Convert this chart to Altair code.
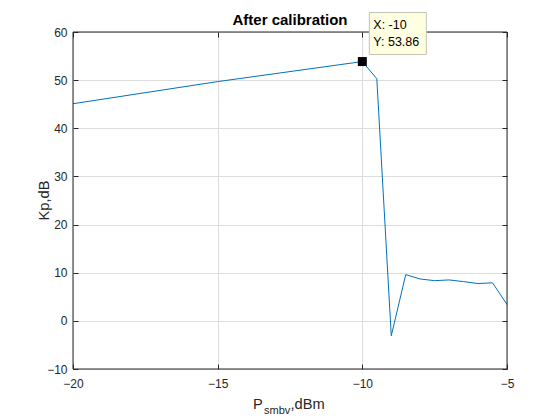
import altair as alt
import pandas as pd

# ---- data ----
x_vals = [-20, -15, -10, -9.5, -9, -8.5, -8, -7.5, -7, -6.5, -6, -5.5, -5]
kp_vals = [45.1, 49.7, 53.86, 50.3, -3.1, 9.6, 8.7, 8.35, 8.5, 8.15, 7.75, 7.9, 3.4]
x_ticks = [-20, -15, -10, -5]
y_ticks = [-10, 0, 10, 20, 30, 40, 50, 60]
tip_x = [-10]
tip_y = [53.86]
title_text = "After calibration"
xlabel_main = "P"
xlabel_sub = "smbv"
xlabel_tail = ",dBm"
ylabel_text = "Kp,dB"

W, H = 434, 337
FONT = "Liberation Sans"
AX = "#262626"
GRID = "#DEDEDE"
LINE = "#0072BD"

df = pd.DataFrame({"x": x_vals, "y": kp_vals})
tip = pd.DataFrame({"x": tip_x, "y": tip_y})
tip["label"] = [f"X: {tip_x[0]:g}\nY: {tip_y[0]:.2f}"]
one = pd.DataFrame({"k": [0]})

xs = alt.Scale(domain=[-20, -5], nice=False, zero=False)
ys = alt.Scale(domain=[-10, 60], nice=False, zero=False)

common_lbl = dict(labelFont=FONT, labelFontSize=12, labelColor=AX,
                  labelOverlap=False, labelBound=False, title=None)

line = alt.Chart(df).mark_line(color=LINE, strokeWidth=1).encode(
    x=alt.X("x:Q", scale=xs, axis=alt.Axis(values=x_ticks, grid=True, gridColor=GRID,
                                           ticks=False, domain=False, labelPadding=9,
                                           labelFlush=False, **common_lbl)),
    y=alt.Y("y:Q", scale=ys, axis=alt.Axis(values=y_ticks, grid=True, gridColor=GRID,
                                           ticks=False, domain=False, labelPadding=6,
                                           labelFlush=False, **common_lbl)),
)

tick_ax = dict(grid=False, domain=False, labels=False, ticks=True, tickSize=5,
               tickColor=AX, tickWidth=1, offset=-5, title=None)

border = alt.Chart(one).mark_rect(fill=None, stroke=AX, strokeWidth=1).encode(
    x=alt.value(0), x2=alt.value(W), y=alt.value(0), y2=alt.value(H)
)

marker = alt.Chart(tip).mark_square(size=81, color="black", opacity=1, filled=True).encode(
    x=alt.X("x:Q", scale=xs, axis=alt.Axis(orient="top", values=x_ticks, **tick_ax)),
    y=alt.Y("y:Q", scale=ys, axis=alt.Axis(orient="right", values=y_ticks, **tick_ax)),
)

box = alt.Chart(tip).mark_rect(fill="#FFFFE1", stroke="#C4C4B4", strokeWidth=1,
                               xOffset=7, x2Offset=64, yOffset=-49, y2Offset=-7).encode(
    x=alt.X("x:Q", scale=xs, axis=alt.Axis(orient="bottom", values=x_ticks, **tick_ax)),
    x2="x:Q",
    y=alt.Y("y:Q", scale=ys, axis=alt.Axis(orient="left", values=y_ticks, **tick_ax)),
    y2="y:Q",
)

box_text = alt.Chart(tip).mark_text(align="left", baseline="alphabetic", dx=11, dy=-33,
                                    font=FONT, fontSize=12.5, color="black",
                                    lineBreak="\n", lineHeight=17.5).encode(
    x=alt.X("x:Q", scale=xs, axis=None),
    y=alt.Y("y:Q", scale=ys, axis=None),
    text="label:N",
)

title = alt.Chart(pd.DataFrame({"t": [title_text]})).mark_text(
    font=FONT, fontSize=15, fontWeight="bold", color="black",
    align="center", baseline="alphabetic").encode(
    x=alt.value(W / 2), y=alt.value(-7), text="t:N")

ylab = alt.Chart(pd.DataFrame({"t": [ylabel_text]})).mark_text(
    font=FONT, fontSize=14.67, color=AX, align="center", baseline="middle", angle=270).encode(
    x=alt.value(-28), y=alt.value(H / 2), text="t:N")

xl_main = alt.Chart(pd.DataFrame({"t": [xlabel_main]})).mark_text(
    font=FONT, fontSize=14.67, color=AX, align="left", baseline="alphabetic").encode(
    x=alt.value(180), y=alt.value(H + 40), text="t:N")
xl_sub = alt.Chart(pd.DataFrame({"t": [xlabel_sub]})).mark_text(
    font=FONT, fontSize=11, color=AX, align="left", baseline="alphabetic").encode(
    x=alt.value(191), y=alt.value(H + 45), text="t:N")
xl_tail = alt.Chart(pd.DataFrame({"t": [xlabel_tail]})).mark_text(
    font=FONT, fontSize=14.67, color=AX, align="left", baseline="alphabetic").encode(
    x=alt.value(217.5), y=alt.value(H + 40), text="t:N")

chart = alt.layer(
    line, border, marker, box, box_text, title, ylab, xl_main, xl_sub, xl_tail
).resolve_axis(x="independent", y="independent").properties(
    width=W, height=H,
    autosize=alt.AutoSizeParams(type="none"),
    padding={"left": 65, "top": 24, "right": 45, "bottom": 49},
    background="white",
).configure_view(stroke=None)

chart.save("out.html", embed_options={"renderer": "svg", "actions": False})
